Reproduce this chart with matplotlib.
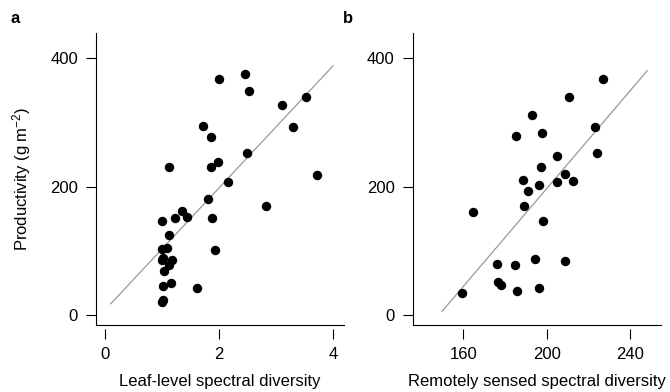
import numpy as np
import matplotlib.pyplot as plt

plt.rcParams['font.family'] = ['Liberation Sans', 'DejaVu Sans']
plt.rcParams['font.size'] = 12
plt.rcParams['mathtext.fontset'] = 'custom'
plt.rcParams['mathtext.rm'] = 'Liberation Sans'
plt.rcParams['mathtext.it'] = 'Liberation Sans:italic'

# panel a: leaf-level spectral diversity vs productivity
leaf_div = [0.99, 1.02, 1.01, 1.15, 1.03, 1.12, 1.17, 0.99, 1.02, 0.99,
            1.09, 1.12, 0.99, 1.23, 1.35, 1.44, 1.12, 1.61, 1.92, 1.88,
            1.81, 2.15, 1.86, 1.98, 1.85, 1.72, 1.99, 2.45, 2.53, 2.49,
            2.82, 3.11, 3.29, 3.53, 3.71]
leaf_prod = [21, 24, 46, 50, 69, 78, 86, 85, 89, 103,
             104, 125, 147, 151, 162, 152, 230, 42, 102, 151,
             180, 207, 231, 238, 277, 294, 367, 376, 349, 253,
             169, 327, 293, 339, 218]
leaf_fit_x = [0.1, 4.0]
leaf_fit_y = [17.6, 388.0]

# panel b: remotely sensed spectral diversity vs productivity
rs_div = [159.4, 164.5, 176.3, 176.5, 178.1, 185.0, 185.8, 185.4, 188.6,
          189.1, 191.2, 193.1, 194.2, 196.5, 196.5, 197.1, 197.9, 198.1,
          205.0, 205.1, 208.8, 208.8, 210.7, 212.3, 222.9, 223.8, 226.9]
rs_prod = [34, 161, 79, 51, 47, 78, 38, 278, 210,
           169, 193, 312, 88, 42, 203, 231, 284, 147,
           247, 207, 219, 84, 339, 208, 293, 253, 367]
rs_fit_x = [149.9, 248.0]
rs_fit_y = [5.7, 380.4]

panels = [
    ('a', leaf_div, leaf_prod, leaf_fit_x, leaf_fit_y, [0, 2, 4], (-0.16, 4.19),
     'Leaf-level spectral diversity'),
    ('b', rs_div, rs_prod, rs_fit_x, rs_fit_y, [160, 200, 240], (135.9, 254.4),
     'Remotely sensed spectral diversity'),
]

fig = plt.figure(figsize=(6.7, 3.92), dpi=100)
lefts = [0.1433, 0.616]
tag_x = [0.016, 0.512]

for i, (tag, x, y, fx, fy, xt, xlim, xlabel) in enumerate(panels):
    ax = fig.add_axes([lefts[i], 0.1717, 0.37, 0.744])
    ax.plot(fx, fy, color='#999999', lw=0.9, zorder=1)
    ax.plot(x, y, 'o', color='black', ms=6.8, mec='none', zorder=2)

    ax.set_xlim(*xlim)
    ax.set_ylim(-15, 439)
    ax.set_xticks(xt)
    ax.set_yticks([0, 200, 400])

    for s in ['top', 'right']:
        ax.spines[s].set_visible(False)
    ax.spines['left'].set_linewidth(0.8)
    # x ticks sit a little below the frame line
    ax.spines['bottom'].set_position(('outward', 3))
    ax.spines['bottom'].set_visible(False)
    ax.plot([0, 1], [0, 0], transform=ax.transAxes, color='black', lw=0.8,
            clip_on=False)
    ax.tick_params(length=7, width=0.8, pad=6)

    ax.set_xlabel(xlabel, labelpad=9)
    if i == 0:
        ax.set_ylabel('Productivity (g m$^{-2}$)', labelpad=12)

    fig.text(tag_x[i], 0.952, tag, fontweight='bold', fontsize=12,
             va='center', ha='left')

fig.savefig('out.png', dpi=100)
